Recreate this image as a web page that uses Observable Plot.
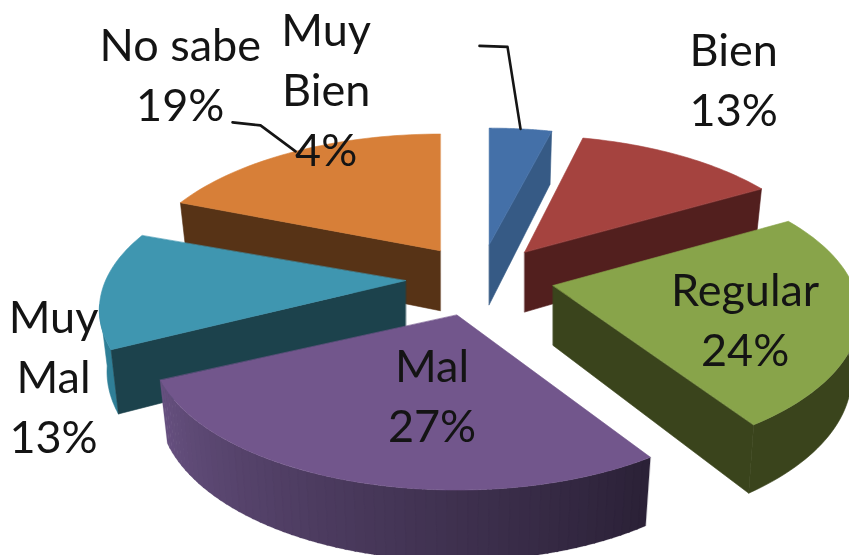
<!DOCTYPE html>
<html><head><meta charset="utf-8">
<script src="https://cdn.jsdelivr.net/npm/d3@7"></script>
<script src="https://cdn.jsdelivr.net/npm/@observablehq/plot@0.6"></script>
<style>html,body{margin:0;background:#fff;overflow:hidden}svg{display:block;filter:blur(0.6px)}</style>
</head><body><script>
const categories = ["Muy Bien","Bien","Regular","Mal","Muy Mal","No sabe"];
const labelLines = ["Muy\nBien","Bien","Regular","Mal","Muy\nMal","No sabe"];
const shares = [4,13,24,27,13,19];
const topColors = ["#4470a8","#a5433f","#88a44a","#72568c","#3f96b0","#d77f38"];
const cutColors = ["#365a85","#521f1e","#3a441c","#2c2238","#1c424c","#573316"];
const wallColors = ["#365a85","#521f1e","#3a441c","#2c2238","#2f7f97","#573316"];

// view model of the tilted, exploded pie
const cx=478, cy=280, rx=300, ry=140, ex=77, ey=36, persp=0.2, depth=60, shrink=0.975;
const nudge=[[1,0],[-1,0],[0,-4],[0,0],[4,-1],[5,0]];
const spin=[0,-1,-1.5,0,-1.5,0];
const rad=d=>d*Math.PI/180;
const stops=d3.cumsum(shares).map(v=>v*3.6);
const starts=Array.from(stops,(s,i)=>i?stops[i-1]:0);
const apex=i=>{const b=rad((starts[i]+stops[i])/2);return [cx+ex*Math.sin(b)+nudge[i][0],cy-ey*Math.cos(b)+nudge[i][1]];};
function pt(i,a,low){
  const t=a+spin[i];
  const [ax,ay]=apex(i),X=Math.sin(rad(t)),Y=-Math.cos(rad(t)),s=1/(1-persp*Y);
  const k=low?shrink:1;
  return {x:ax+rx*X*s*k,y:ay+ry*Y*s*k+(low?depth*s:0)};
}
const center=(i,low)=>{const [x,y]=apex(i);return {x,y:y+(low?depth:0)};};
const arc=(i,a0,a1,low)=>d3.range(0,41).map(t=>pt(i,a0+(a1-a0)*t/40,low));
const face=(points,fill,w=0.6)=>Plot.line(points,{x:"x",y:"y",fill,stroke:fill,strokeWidth:w,curve:"linear-closed"});
const cutFace=(i,a)=>face([center(i),pt(i,a),pt(i,a,true),center(i,true)],cutColors[i]);
const wall=(i,a0,a1,fill,w)=>face([...arc(i,a0,a1),...arc(i,a0,a1,true).reverse()],fill||wallColors[i],w);
const topFace=i=>face([center(i),...arc(i,starts[i],stops[i])],topColors[i]);

const shade=d3.interpolateRgb("#2b2137","#66507f");
const purpleSteps=60;
const purpleWall=d3.range(0,purpleSteps).map(k=>{
  const w=(stops[3]-starts[3])/purpleSteps;
  return wall(3,starts[3]+k*w,starts[3]+(k+1)*w+0.3,shade(k/(purpleSteps-1)),0.2);
});

const labelShift=[[-163,-158],[209,-175],[192,31],[-25,78],[-352,93],[-260,-179]];
const labels=categories.map((c,i)=>{
  const [ax,ay]=apex(i);
  return {x:ax+labelShift[i][0],y:ay+labelShift[i][1],text:labelLines[i]+"\n"+shares[i]+"%"};
});
const leader=(i,bend,end)=>{
  const m=pt(i,(starts[i]+stops[i])/2);
  return Plot.line([m,{x:m.x+bend[0],y:m.y+bend[1]},{x:m.x+end[0],y:m.y+end[1]}],
    {x:"x",y:"y",stroke:"#151515",strokeWidth:2.6});
};

const chart=Plot.plot({
  width:849,height:555,margin:0,
  x:{domain:[0,849],range:[0,849],axis:null},
  y:{domain:[0,555],range:[0,555],axis:null},
  marks:[
    cutFace(0,stops[0]),topFace(0),
    cutFace(1,stops[1]),topFace(1),
    cutFace(2,stops[2]),wall(2,90,stops[2]),topFace(2),
    cutFace(5,starts[5]),topFace(5),
    wall(4,starts[4],262),cutFace(4,starts[4]),topFace(4),
    ...purpleWall,topFace(3),
    leader(0,[-13,-82],[-41,-83]),
    leader(5,[-35,-26],[-63,-29]),
    Plot.text(labels,{x:"x",y:"y",text:"text",fontSize:45,lineHeight:1.333,lineAnchor:"middle",textAnchor:"middle",
      fontFamily:"Lato, Carlito, sans-serif",fill:"#141414"})
  ]
});
document.body.append(chart);
</script></body></html>
